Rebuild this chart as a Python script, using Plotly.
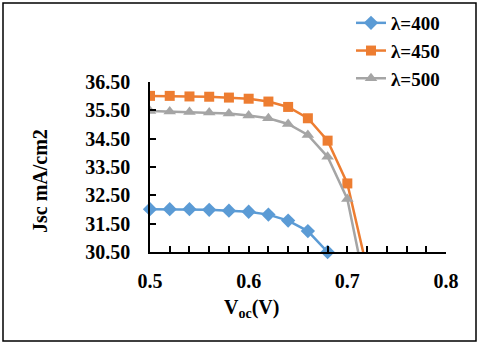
import plotly.graph_objects as go

voc = [0.50, 0.52, 0.54, 0.56, 0.58, 0.60, 0.62, 0.64, 0.66, 0.68, 0.70, 0.72]
jsc_400 = [32.01, 32.01, 32.01, 31.99, 31.96, 31.92, 31.82, 31.61, 31.24, 30.50]
jsc_450 = [36.01, 36.01, 35.99, 35.98, 35.95, 35.91, 35.81, 35.62, 35.22, 34.43, 32.92, 29.90]
jsc_500 = [35.48, 35.46, 35.44, 35.42, 35.39, 35.32, 35.22, 35.02, 34.63, 33.86, 32.37, 28.97]
series_names = ['λ=400', 'λ=450', 'λ=500']
x_ticks = [0.5, 0.6, 0.7, 0.8]
y_ticks = [30.5, 31.5, 32.5, 33.5, 34.5, 35.5, 36.5]

FONT = 'Liberation Serif'
W, H = 480, 345
L, R, T, B = 150, 446, 82, 252  # plot area in pixels


def px_x(p):
    return (p - L) / (R - L)


def px_y(p):
    return (B - p) / (B - T)


def serif(size):
    return dict(family=FONT, size=size, color='black')


fig = go.Figure()
fig.add_trace(go.Scatter(
    x=voc[:len(jsc_400)], y=jsc_400, name='<b>' + series_names[0] + '</b>', mode='lines+markers',
    line=dict(color='#5B9BD5', width=2.5), cliponaxis=False,
    marker=dict(symbol='diamond', size=11, color='#5B9BD5')))
fig.add_trace(go.Scatter(
    x=voc[:len(jsc_450)], y=jsc_450, name='<b>' + series_names[1] + '</b>', mode='lines+markers',
    line=dict(color='#ED7D31', width=2.5),
    marker=dict(symbol='square', size=10, color='#ED7D31')))
fig.add_trace(go.Scatter(
    x=voc[:len(jsc_500)], y=jsc_500, name='<b>' + series_names[2] + '</b>', mode='lines+markers',
    line=dict(color='#A5A5A5', width=2.5),
    marker=dict(symbol='triangle-up', size=11, color='#A5A5A5')))

fig.update_layout(
    width=W, height=H,
    margin=dict(l=L, r=W - R, t=T, b=H - B, autoexpand=False),
    paper_bgcolor='white', plot_bgcolor='white',
    font=serif(20),
    legend=dict(x=351 / W, y=1 - 4 / H, xref='container', yref='container',
                xanchor='left', yanchor='top',
                font=serif(19), bgcolor='rgba(0,0,0,0)', tracegroupgap=0),
    xaxis=dict(range=[0.5, 0.8], showgrid=False, zeroline=False,
               tickvals=x_ticks, ticktext=['<b>%g</b>' % v for v in x_ticks],
               showline=True, linecolor='black', linewidth=1.5,
               ticks='inside', ticklen=6, tickcolor='black', tickwidth=1.5,
               ticklabelstandoff=10,
               minor=dict(dtick=0.02, tick0=0.5, ticks='inside', ticklen=6,
                          tickcolor='black', tickwidth=1.5),
               tickfont=serif(20)),
    yaxis=dict(range=[30.5, 36.5], showgrid=False, zeroline=False,
               tickvals=y_ticks, ticktext=['<b>%.2f</b>' % v for v in y_ticks],
               showline=True, linecolor='black', linewidth=1.5,
               ticks='inside', ticklen=6, tickcolor='black', tickwidth=1.5,
               ticklabelstandoff=14, tickfont=serif(20)),
    shapes=[dict(type='rect', xref='paper', yref='paper',
                 x0=px_x(3), x1=px_x(476), y0=px_y(341), y1=px_y(3),
                 line=dict(color='black', width=1.5))],
    annotations=[
        dict(text='<b>V<sub>oc</sub>(V)</b>', xref='paper', yref='paper',
             x=px_x(251), y=px_y(308), showarrow=False, xanchor='center', yanchor='middle',
             font=serif(20)),
        dict(text='<b>Jsc mA/cm2</b>', xref='paper', yref='paper', textangle=-90,
             x=px_x(40), y=px_y(181), showarrow=False, xanchor='center', yanchor='middle',
             font=serif(20)),
    ],
)

fig.write_html('out.html', config={'displayModeBar': False},
               post_script="document.body.style.margin='0';")
